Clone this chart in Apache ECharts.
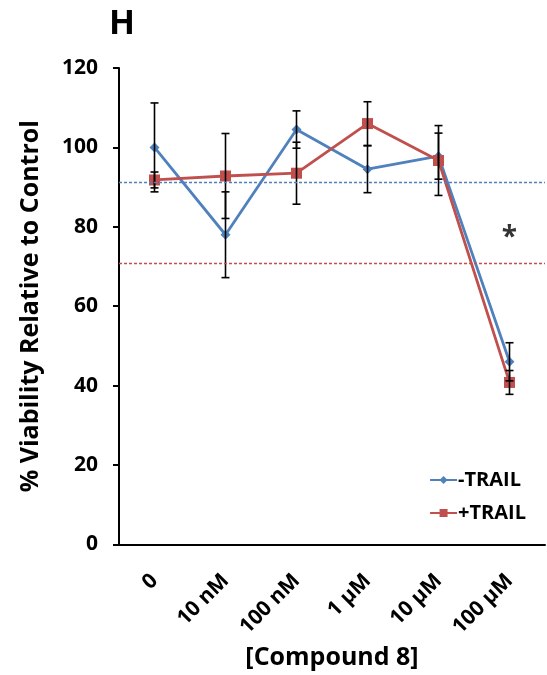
<!DOCTYPE html>
<html>
<head>
<meta charset="utf-8">
<script src="https://cdn.jsdelivr.net/npm/echarts@6/dist/echarts.min.js"></script>
<style>html,body{margin:0;padding:0;background:#fff}#c{width:547px;height:675px}</style>
</head>
<body>
<div id="c"></div>
<script>
const categories = ['0', '10 nM', '100 nM', '1 µM', '10 µM', '100 µM'];
const minusTrail = [100, 78, 104.5, 94.5, 97.8, 46];
const minusTrailErr = [11.2, 10.8, 4.7, 5.9, 5.8, 4.8];
const plusTrail = [91.8, 92.8, 93.5, 106, 96.7, 40.8];
const plusTrailErr = [2, 10.7, 7.8, 5.5, 8.8, 3];
const minusTrailRef = 91.1;
const plusTrailRef = 70.9;
const yTicks = [0, 20, 40, 60, 80, 100, 120];
const significance = [[5, 79, '*']];

const BLUE = '#4F81BD', RED = '#C0504D';
const FONT = 'Open Sans';

function errData(vals, errs) {
  return vals.map((v, i) => [i, v - errs[i], v + errs[i]]);
}
function errRender(params, api) {
  const x = api.value(0);
  const lo = api.coord([x, api.value(1)]);
  const hi = api.coord([x, api.value(2)]);
  const w = 4;
  const style = { stroke: '#000', lineWidth: 1.6 };
  return {
    type: 'group',
    children: [
      { type: 'line', shape: { x1: lo[0], y1: lo[1], x2: hi[0], y2: hi[1] }, style },
      { type: 'line', shape: { x1: lo[0] - w, y1: lo[1], x2: lo[0] + w, y2: lo[1] }, style },
      { type: 'line', shape: { x1: hi[0] - w, y1: hi[1], x2: hi[0] + w, y2: hi[1] }, style }
    ]
  };
}

const chart = echarts.init(document.getElementById('c'));
chart.setOption({
  animation: false,
  title: {
    text: 'H', left: 104, top: 2,
    textStyle: { fontFamily: FONT, fontWeight: 'bold', fontSize: 34, color: '#000' }
  },
  grid: { left: 119, right: 2, top: 68, bottom: 127 },
  legend: {
    data: ['-TRAIL', '+TRAIL'],
    orient: 'vertical',
    right: 16, top: 465,
    itemWidth: 27, itemHeight: 10, itemGap: 13,
    textStyle: { fontFamily: FONT, fontWeight: 'bold', fontSize: 20, color: '#000', padding: [0, 0, 0, -4] }
  },
  xAxis: {
    type: 'category',
    data: categories,
    boundaryGap: true,
    name: '[Compound 8]',
    nameLocation: 'middle',
    nameGap: 86,
    nameTextStyle: { fontFamily: FONT, fontWeight: 'bold', fontSize: 25, color: '#000' },
    axisLine: { lineStyle: { color: '#000', width: 2 } },
    axisTick: { length: 6, lineStyle: { color: '#000', width: 2 }, alignWithLabel: false },
    axisLabel: { rotate: 45, margin: 33, fontFamily: FONT, fontWeight: 'bold', fontSize: 21, color: '#000' }
  },
  yAxis: {
    type: 'value',
    min: 0, max: 120, interval: 20,
    name: '% Viability Relative to Control',
    nameLocation: 'middle',
    nameGap: 76,
    nameTextStyle: { fontFamily: FONT, fontWeight: 'bold', fontSize: 25, color: '#000' },
    axisLine: { show: true, lineStyle: { color: '#000', width: 2 } },
    axisTick: { show: true, length: 6, lineStyle: { color: '#000', width: 2 } },
    splitLine: { show: false },
    axisLabel: {
      margin: 21, fontFamily: FONT, fontWeight: 'bold', fontSize: 21, color: '#000',
      formatter: v => yTicks.includes(v) ? String(v) : ''
    }
  },
  series: [
    {
      name: '-TRAIL', type: 'line', data: minusTrail,
      symbol: 'diamond', symbolSize: 10,
      lineStyle: { color: BLUE, width: 2.8 }, itemStyle: { color: BLUE },
      z: 3,
      markLine: {
        silent: true, symbol: 'none', label: { show: false },
        lineStyle: { color: BLUE, type: [3, 2], width: 1.3, opacity: 1 },
        data: [{ yAxis: minusTrailRef }]
      }
    },
    {
      name: '+TRAIL', type: 'line', data: plusTrail,
      symbol: 'rect', symbolSize: 11,
      lineStyle: { color: RED, width: 2.8 }, itemStyle: { color: RED },
      z: 3,
      markLine: {
        silent: true, symbol: 'none', label: { show: false },
        lineStyle: { color: RED, type: [3, 2], width: 1.3, opacity: 1 },
        data: [{ yAxis: plusTrailRef }]
      }
    },
    { type: 'custom', renderItem: errRender, data: errData(minusTrail, minusTrailErr), z: 4, silent: true },
    { type: 'custom', renderItem: errRender, data: errData(plusTrail, plusTrailErr), z: 4, silent: true },
    {
      type: 'scatter', data: significance, symbolSize: 0, silent: true,
      label: {
        show: true, position: 'inside', offset: [0, 7], formatter: p => p.data[2],
        fontFamily: FONT, fontWeight: 'bold', fontSize: 28, color: '#000'
      }
    }
  ]
});
</script>
</body>
</html>
